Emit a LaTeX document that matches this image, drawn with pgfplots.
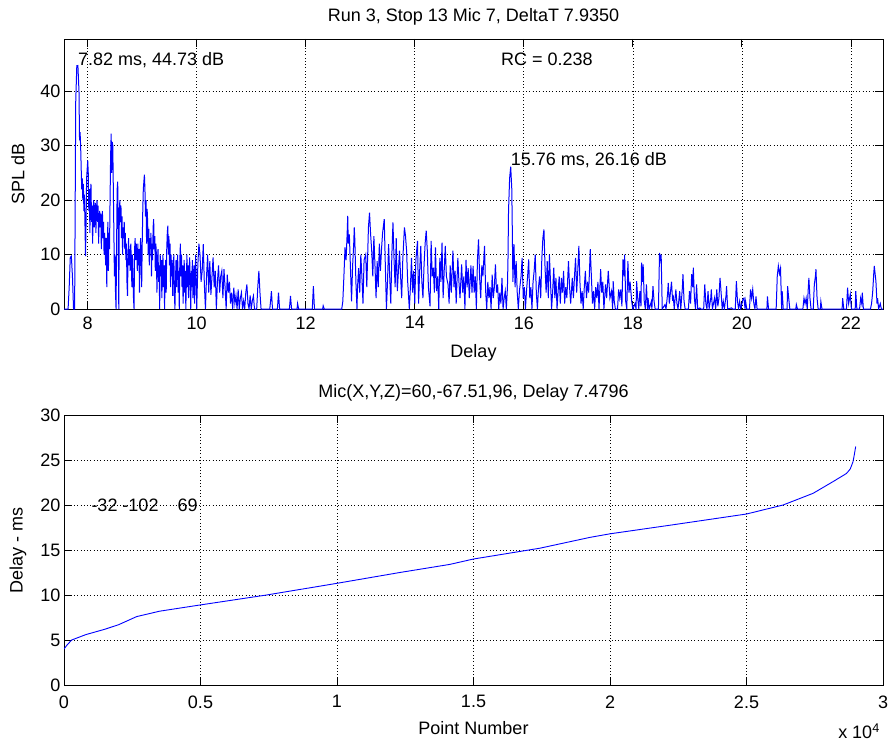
\documentclass[border=0pt]{standalone}
\usepackage{pgfplots}
\pgfplotsset{compat=1.18}
\usepackage{fontspec}
\setmainfont{Liberation Sans}
\newcommand{\fs}{\fontsize{18}{21}\selectfont}
\pgfplotsset{
  mystyle/.style={
    scale only axis, width=819pt, height=270pt,
    clip mode=individual,
    scaled x ticks=false, scaled y ticks=false,
    /pgf/number format/assume math mode=true,
    tick label style={font=\fs},
    label style={font=\fs},
    title style={font=\fs},
    tick align=inside, tick pos=both,
    major tick length=8pt,
    axis line style={black, line width=0.7pt},
    every tick/.style={black, line width=0.7pt},
    grid=major,
    major grid style={black, line width=0.6pt, dash pattern=on 0.7pt off 2.6pt},
  }
}
\begin{document}
\begin{tikzpicture}
\path[use as bounding box] (0,0) rectangle (891pt,-744pt);
\begin{axis}[mystyle,
  at={(64pt,-309pt)}, anchor=south west,
  xmin=7.565, xmax=22.59, ymin=0, ymax=49.6,
  xtick={8,10,...,22}, ytick={0,10,20,30,40},
  xticklabel style={yshift=-4pt},
  title={Run 3, Stop 13 Mic 7, DeltaT 7.9350},
  title style={at={(axis description cs:0.5,1.059)}, anchor=center},
  xlabel={Delay}, ylabel={SPL dB},
  xlabel style={at={(axis description cs:0.5,-0.163)}, anchor=center},
  ylabel style={at={(axis description cs:-0.0562,0.5)}, anchor=center},
]
\addplot[blue, line width=1pt] coordinates {
(7.565,0)(7.60,0)(7.64,0)(7.66,4)(7.68,9.5)(7.70,9.7)(7.72,6)(7.74,0)(7.76,0)(7.78,38)(7.80,44.7)(7.82,44.73)(7.84,40)(7.85,31)(7.86,32.5)(7.87,30)(7.88,26)(7.89,22)(7.90,24)(7.91,20)(7.92,23)(7.93,18)(7.94,21)(7.96,9.7)(7.97,16)(7.98,24)(8.00,27.3)(8.01,25)(8.02,18)(8.03,22)(8.04,14)(8.05,21)(8.06,23)(8.07,16)(8.08,19)(8.09,12)(8.10,18)(8.11,20)(8.12,15)(8.13,17)(8.14,19.5)(8.15,14)(8.16,18)(8.17,20)(8.18,16)(8.19,19)(8.20,12)(8.21,17)(8.22,18)(8.23,15)(8.24,17.5)(8.25,11)(8.26,16)(8.27,18)(8.28,13)(8.29,16)(8.30,10)(8.31,14)(8.32,11)(8.33,8)(8.34,13)(8.35,4)(8.36,12)(8.37,16)(8.38,7)(8.39,14)(8.40,11)(8.41,20)(8.42,28)(8.43,32.2)(8.44,25)(8.45,30.7)(8.46,30)(8.47,22)(8.48,14)(8.49,6)(8.50,10)(8.51,3)(8.52,0)(8.53,12)(8.54,22)(8.55,23.4)(8.56,15)(8.57,0)(8.58,18)(8.59,20)(8.60,16)(8.61,19)(8.62,13)(8.63,17)(8.64,10)(8.65,15)(8.66,13)(8.67,16)(8.68,11)(8.69,14)(8.70,9)(8.71,12)(8.72,5)(8.73,2.4)(8.74,10)(8.75,13)(8.76,8)(8.77,11)(8.78,7)(8.79,12)(8.80,9)(8.81,4)(8.82,10)(8.83,6)(8.84,2)(8.85,0)(8.86,11)(8.87,13)(8.88,9)(8.89,12)(8.90,10.5)(8.91,7)(8.92,12)(8.93,8)(8.94,11)(8.95,3)(8.96,10)(8.97,13)(8.98,9)(8.99,4)(9.00,12)(9.01,18)(9.02,22)(9.04,24.7)(9.05,22)(9.06,17)(9.07,20)(9.08,12)(9.09,18.4)(9.10,16)(9.11,10)(9.12,14.7)(9.13,8)(9.14,13)(9.15,11)(9.16,14)(9.17,6)(9.18,12)(9.19,9)(9.20,15)(9.21,16.5)(9.22,11)(9.23,13.4)(9.24,7)(9.25,12)(9.26,10)(9.27,3)(9.28,9)(9.29,11)(9.30,5)(9.31,8)(9.32,0)(9.33,10)(9.34,6)(9.35,9)(9.36,2)(9.37,7)(9.38,10)(9.39,4)(9.40,8)(9.41,0)(9.42,6)(9.43,9)(9.44,3)(9.45,11)(9.46,14)(9.47,15.3)(9.48,10)(9.49,13.4)(9.50,8)(9.51,12)(9.52,4)(9.53,10)(9.54,6)(9.55,9)(9.56,2.4)(9.57,7)(9.58,10)(9.59,3)(9.60,0)(9.61,5)(9.62,9)(9.63,4)(9.64,8)(9.65,10)(9.66,3)(9.67,7)(9.68,0)(9.69,9)(9.70,12)(9.71,6)(9.72,10)(9.73,4)(9.74,8)(9.75,1)(9.76,6)(9.77,9)(9.78,3)(9.79,7)(9.80,0)(9.81,5)(9.82,10)(9.83,4)(9.84,8)(9.85,2)(9.86,6)(9.87,9.5)(9.88,5)(9.89,0)(9.90,7)(9.91,4)(9.92,9)(9.93,2)(9.94,6)(9.95,8)(9.96,1)(9.97,5)(9.98,10)(9.99,6)(10.00,0)(10.02,8)(10.04,12)(10.06,10)(10.08,5)
(10.10,7)(10.12,11.9)(10.14,4.5)(10.16,0)(10.18,6)(10.20,10)(10.22,3)(10.24,8.8)(10.26,2.6)(10.28,6)(10.30,9.5)(10.32,4)(10.34,7)(10.36,0)(10.38,5)(10.40,8)(10.42,3)(10.44,6)(10.46,7)(10.48,2)(10.50,7.3)(10.52,4)(10.54,0)(10.56,6.3)(10.58,3)(10.60,5)(10.62,1)(10.64,3)(10.66,0)(10.68,3.9)(10.70,1)(10.72,2.5)(10.74,0)(10.76,3.6)(10.78,0)(10.80,2)(10.82,3)(10.84,0)(10.86,1.5)(10.88,0)(10.90,3)(10.92,4.5)(10.94,1)(10.96,0)(10.98,2.5)(11.00,0)(11.02,1.5)(11.04,2.4)(11.06,0)(11.10,0)(11.12,4)(11.14,7)(11.16,3)(11.18,0)(11.34,0)(11.36,2)(11.37,3.3)(11.39,0)(11.48,0)(11.50,3)(11.52,0)(11.70,0)(11.72,2.4)(11.74,0)(11.84,0)(11.85,1)(11.87,0)(12.12,0)(12.14,4.2)(12.16,0)(12.31,0)(12.32,0.6)(12.34,0)(12.66,0)
(12.68,1.4)(12.70,6)(12.72,11.3)(12.74,9)(12.76,14)(12.77,17.1)(12.78,12)(12.80,13.7)(12.82,7.6)(12.84,1.4)(12.86,8)(12.88,12)(12.89,15)(12.90,12.8)(12.92,5)(12.94,0)(12.95,4)(12.97,7.5)(12.99,3)(13.01,10)(13.03,6)(13.05,1)(13.07,9)(13.10,10)(13.12,4)(13.15,15)(13.17,17.7)(13.19,13.7)(13.21,10.7)(13.23,6)(13.25,13.4)(13.27,8)(13.29,2)(13.31,8.8)(13.33,4)(13.35,12)(13.37,7)(13.39,11)(13.41,14)(13.44,16.5)(13.46,8)(13.48,0)(13.50,5)(13.52,11.9)(13.54,6)(13.56,1)(13.58,10)(13.60,15.9)(13.62,9)(13.64,4)(13.66,13)(13.68,3.3)(13.70,7)(13.72,10.7)(13.74,6)(13.76,2)(13.78,9)(13.81,15)(13.83,13.4)(13.85,10.7)(13.87,5)(13.90,0)(13.92,4)(13.94,9.4)(13.96,3)(13.98,7)(14.00,1)(14.02,9)(14.05,12.5)(14.07,1)(14.09,7)(14.11,11.6)(14.13,5)(14.15,2)(14.17,8)(14.19,12)(14.21,14.4)(14.23,10.7)(14.25,4)(14.28,0.5)(14.30,12.5)(14.32,6)(14.34,7.6)(14.36,3)(14.38,11.3)(14.40,3.3)(14.42,6)(14.44,0)(14.46,9.4)(14.48,5)(14.50,12.2)(14.52,2)(14.54,7)(14.56,11.6)(14.58,6)(14.61,4.5)(14.63,1)(14.65,8)(14.67,3)(14.70,10.7)(14.72,4)(14.74,7)(14.76,1)(14.79,9.4)(14.81,5)(14.83,2)(14.86,8.2)(14.88,3)(14.90,6)(14.92,0)(14.94,9)(14.96,4)(14.98,7.5)(15.00,2)(15.03,8)(15.05,3)
(15.07,7.9)(15.09,3)(15.11,6)(15.13,0)(15.15,9)(15.17,12.8)(15.19,5.7)(15.21,2)(15.23,8)(15.25,6)(15.28,11.6)(15.30,3.3)(15.32,0)(15.34,5)(15.36,2)(15.38,4)(15.40,0)(15.42,6.3)(15.44,2)(15.46,4)(15.48,8.2)(15.50,3)(15.52,4.5)(15.54,0)(15.56,3)(15.58,1)(15.60,5.7)(15.62,0)(15.64,2)(15.66,3.3)(15.68,0)(15.70,4)(15.71,9)(15.72,18)(15.74,24)(15.76,26.16)(15.78,22)(15.79,14)(15.80,5)(15.82,11.9)(15.84,4)(15.86,8.8)(15.88,3)(15.90,0)(15.92,3.3)(15.95,6)(15.97,9.4)(15.99,2)(16.01,4)(16.03,0)(16.05,3.3)(16.07,6)(16.09,9.1)(16.11,2)(16.13,4)(16.15,0)(16.17,5)(16.19,7)(16.21,10)(16.23,3)(16.25,0)(16.27,4)(16.29,6)(16.31,2)(16.33,9)(16.35,13)(16.37,14.6)(16.39,7.6)(16.41,3)(16.43,8.8)(16.45,2)(16.47,10)(16.49,5)(16.51,0)(16.53,3.3)(16.55,7.6)(16.57,2)(16.59,5.7)(16.61,0)(16.63,3.3)(16.65,6)(16.67,1)(16.69,5.7)(16.71,3)(16.73,7)(16.75,1)(16.77,4)(16.79,2)(16.82,8.8)(16.84,4)(16.86,1)(16.89,5.7)(16.91,2)(16.93,6)(16.95,9.4)(16.97,3)(16.99,7)(17.01,11.6)(17.03,5)(17.05,1)(17.07,3.3)(17.09,0)(17.11,4)(17.13,7)(17.15,2)(17.17,5)(17.19,3)(17.22,11)(17.24,6)(17.26,1)(17.28,3.3)(17.30,0)(17.32,4)(17.34,2)(17.36,5)(17.38,0)(17.41,7.3)(17.43,3)(17.45,5)(17.47,0)(17.50,4.5)(17.52,2)
(17.55,7)(17.58,2)(17.61,3.3)(17.63,0)(17.64,5.1)(17.66,1.4)(17.68,0)(17.72,0)(17.74,3.6)(17.76,2)(17.78,3.6)(17.80,0.5)(17.82,9.1)(17.84,6)(17.85,10)(17.87,1.4)(17.89,0)(17.91,8.8)(17.93,3)(17.95,5)(17.98,1.4)(18.00,0)(18.04,1)(18.06,0)(18.07,5.1)(18.09,2)(18.11,0)(18.13,3.3)(18.15,0.5)(18.16,8.5)(18.18,5)(18.19,8.2)(18.21,1.4)(18.23,0)(18.25,4.5)(18.27,0)(18.28,2)(18.30,0)(18.34,1.4)(18.35,0)(18.37,4.2)(18.39,1.4)(18.41,0)(18.47,0)(18.49,10.3)(18.51,9)(18.52,10)(18.54,0)(18.59,0.8)(18.61,0)(18.64,3)(18.65,4.8)(18.67,1)(18.69,3)(18.71,5)(18.73,1.5)(18.74,2.6)(18.76,0)(18.79,3.6)(18.81,1)(18.83,0)(18.86,3.3)(18.88,0)(18.91,4)(18.92,6.4)(18.94,1.4)(18.96,0)(19.02,0)(19.04,3.3)(19.06,1)(19.08,6.4)(19.10,4)(19.11,7.6)(19.13,2)(19.15,0)(19.17,4.5)(19.19,0)(19.23,0.2)(19.25,0)(19.30,0)(19.32,4.5)(19.34,1)(19.36,0)(19.38,3.3)(19.40,0)(19.43,2)(19.44,3.6)(19.46,0)(19.50,2)(19.52,0)(19.54,3.6)(19.56,0.5)(19.58,2)(19.60,5.7)(19.62,3)(19.64,0)(19.66,1.4)(19.68,0)(19.71,2.5)(19.72,4.2)(19.74,0)(19.81,0.2)(19.83,0)(19.88,0)(19.90,5.1)(19.92,1.5)(19.94,0)(19.96,1.4)(19.98,0)(20.02,1.8)
(20.04,2)(20.06,0)(20.07,1.4)(20.09,0)(20.14,0)(20.16,3.6)(20.18,2)(20.20,3.6)(20.22,1)(20.24,0)(20.26,2.3)(20.28,0)(20.46,0)(20.47,2.3)(20.49,0)(20.63,0)(20.65,6)(20.67,7.9)(20.69,6.5)(20.71,7.5)(20.73,0)(20.74,3.3)(20.76,0)(20.83,0)(20.84,4.2)(20.86,2)(20.88,0)(20.99,0)(21.00,0.8)(21.02,0)(21.12,0)(21.14,2)(21.16,1)(21.18,2)(21.20,0)(21.22,4)(21.23,5.7)(21.25,2)(21.27,0)(21.31,0)(21.33,4.5)(21.35,6)(21.36,7.3)(21.38,2)(21.40,0)(21.44,0)(21.45,1.4)(21.47,0)(21.84,0)(21.85,2)(21.87,0)(21.92,0)(21.94,3.9)(21.96,1)(21.99,2.7)(22.01,0)(22.08,0)(22.09,3.3)(22.11,0)(22.16,0)(22.18,2)(22.20,1)(22.21,3)(22.23,0)(22.36,0)(22.38,1)(22.40,3)(22.42,6.5)(22.43,7.9)(22.45,6)(22.46,5.1)(22.48,1)(22.49,2)(22.51,0)(22.54,1)(22.56,0)(22.59,0)
};
\node[font=\fs, anchor=west, inner sep=0pt] at (axis cs:7.82,45.8) {7.82 ms, 44.73 dB};
\node[font=\fs, anchor=west, inner sep=0pt] at (axis cs:15.58,45.8) {RC = 0.238};
\node[font=\fs, anchor=west, inner sep=0pt] at (axis cs:15.76,27.3) {15.76 ms, 26.16 dB};
\end{axis}

\begin{axis}[mystyle,
  at={(64pt,-685pt)}, anchor=south west,
  xmin=0, xmax=30000, ymin=0, ymax=30,
  xtick={0,5000,10000,15000,20000,25000,30000},
  xticklabels={0,0.5,1,1.5,2,2.5,3},
  xticklabel style={yshift=-7pt},
  ytick={0,5,...,30},
  title={Mic(X,Y,Z)=60,-67.51,96, Delay 7.4796},
  title style={at={(axis description cs:0.5,1.059)}, anchor=center},
  xlabel={Point Number}, ylabel={Delay - ms},
  xlabel style={at={(axis description cs:0.5,-0.159)}, anchor=center},
  ylabel style={at={(axis description cs:-0.0562,0.5)}, anchor=center},
]
\addplot[blue, line width=0.9pt] coordinates {
(0,4.0)(100,4.4)(280,5.0)(800,5.6)(1500,6.2)(2000,6.7)(2660,7.6)(3500,8.2)(5000,8.9)(7420,10.0)(10000,11.3)(12300,12.5)(14130,13.4)(15000,14.0)(17430,15.2)(19260,16.4)(20000,16.8)(22300,17.8)(25000,19.0)(26340,20.0)(27440,21.3)(28170,22.6)(28660,23.5)(28800,24.0)(28900,24.8)(28950,25.6)(29000,26.5)
};
\node[font=\fs, anchor=east, inner sep=0pt] at (axis cs:1000,20) [anchor=west] {-32 -102\hspace{19pt}69};
\node[font=\fs, anchor=south east, inner sep=0pt] at (axis description cs:0.9963,-0.2) {x 10\textsuperscript{4}};
\end{axis}
\end{tikzpicture}
\end{document}
